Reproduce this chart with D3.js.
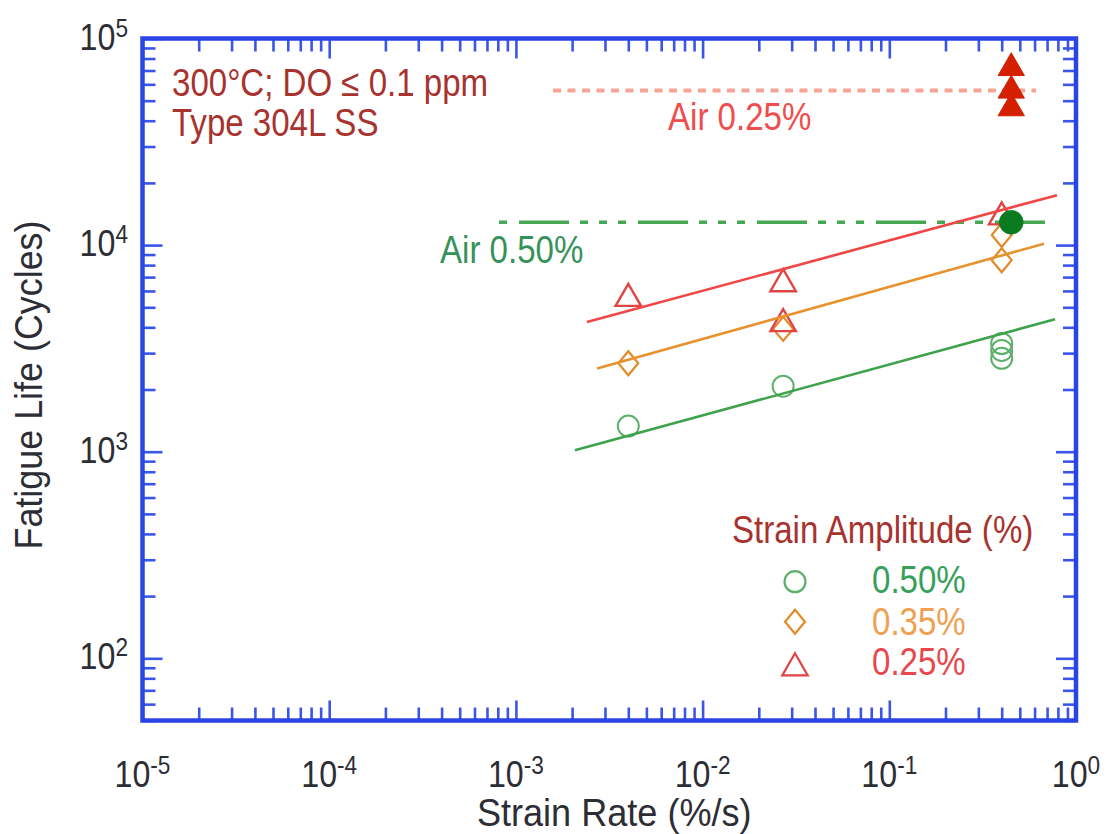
<!DOCTYPE html>
<html>
<head>
<meta charset="utf-8">
<script src="https://cdn.jsdelivr.net/npm/d3@7"></script>
<style>
  html, body { margin: 0; padding: 0; background: #fff; }
  svg { display: block; font-family: "Liberation Sans", Arial, Helvetica, sans-serif; }
</style>
</head>
<body>
<svg id="chart" width="1110" height="834"></svg>
<script>
// Fatigue life vs. strain rate, Type 304L SS in 300°C low-DO water

const xDomain = [1e-5, 1];
const yDomain = [50, 1e5];
const xTickExponents = [-5, -4, -3, -2, -1, 0];
const yTickExponents = [2, 3, 4, 5];

// 0.50 % strain amplitude
const rate050 = [0.004, 0.027, 0.4, 0.4, 0.4];
const life050 = [1330, 2075, 3340, 3090, 2830];
// 0.35 % strain amplitude
const rate035 = [0.004, 0.027, 0.4, 0.4];
const life035 = [2680, 3930, 11200, 8450];
// 0.25 % strain amplitude
const rate025 = [0.004, 0.027, 0.027, 0.4];
const life025 = [5510, 6490, 4160, 13670];

// best-fit trend lines (end points)
const fitRate050 = [0.00207, 0.772];
const fitLife050 = [1015, 4380];
const fitRate035 = [0.00272, 0.674];
const fitLife035 = [2527, 10160];
const fitRate025 = [0.00240, 0.791];
const fitLife025 = [4240, 17450];

// air reference lives
const airRate025 = [0.00158, 0.611];
const airLife025 = [56000, 56000];
const airRate050 = [0.000812, 0.682];
const airLife050 = [12900, 12900];
const airPointRate = [0.45];
const airPointLife = [12900];
const runoutRate = [0.45, 0.45, 0.45];
const runoutLife = [72000, 56000, 46000];

const legendTitle = "Strain Amplitude (%)";
const legendLabels = ["0.50%", "0.35%", "0.25%"];
const noteLines = ["300°C; DO \u2264 0.1 ppm", "Type 304L SS"];

// ---------------------------------------------------------------
const plot = { left: 142.5, right: 1076, top: 38.5, bottom: 720.5 };

const x = d3.scaleLog().domain(xDomain).range([plot.left, plot.right]);
const y = d3.scaleLog().domain(yDomain).range([plot.bottom, plot.top]);

const svg = d3.select("#chart");

const AXIS = "#2b44e6";
const TICK = "#3a55ea";
const TXT = "#2d2d35";
const SX = 0.87;   // narrow face

const C_GREEN = "#3ea24c", C_GREEN_MK = "#5cb06c", C_GREEN_DARK = "#0a7a20";
const C_ORANGE = "#e8922e", C_ORANGE_MK = "#e38a26";
const C_RED = "#f04646", C_RED_MK = "#e04444", C_RED_DARK = "#d42000";
const C_NOTE = "#a8322e";

// ---------- ticks on all four sides (inward) ----------
const majorX = xTickExponents.map(e => Math.pow(10, e));
const minorX = [];
for (let e = -5; e < 0; e++) for (let m = 2; m <= 9; m++) minorX.push(m * Math.pow(10, e));
const majorY = yTickExponents.map(e => Math.pow(10, e));
const minorY = [];
for (let e = 1; e < 5; e++) for (let m = 2; m <= 9; m++) {
  const v = m * Math.pow(10, e);
  if (v >= yDomain[0] && v < yDomain[1]) minorY.push(v);
}

function tickGroup(axis, tx, ty) {
  const g = svg.append("g").attr("transform", `translate(${tx},${ty})`).call(axis);
  g.select(".domain").remove();
  g.selectAll(".tick line").attr("stroke", TICK).attr("stroke-width", 2.6);
  g.selectAll(".tick text").remove();
  return g;
}
[[minorX, 13], [majorX, 20]].forEach(([vals, len]) => {
  tickGroup(d3.axisBottom(x).tickValues(vals).tickSize(-len).tickSizeOuter(0).tickFormat(""), 0, plot.bottom);
  tickGroup(d3.axisTop(x).tickValues(vals).tickSize(-len).tickSizeOuter(0).tickFormat(""), 0, plot.top);
});
[[minorY, 13], [majorY, 20]].forEach(([vals, len]) => {
  tickGroup(d3.axisLeft(y).tickValues(vals).tickSize(-len).tickSizeOuter(0).tickFormat(""), plot.left, 0);
  tickGroup(d3.axisRight(y).tickValues(vals).tickSize(-len).tickSizeOuter(0).tickFormat(""), plot.right, 0);
});

// frame
svg.append("rect")
  .attr("x", plot.left).attr("y", plot.top)
  .attr("width", plot.right - plot.left).attr("height", plot.bottom - plot.top)
  .attr("fill", "none").attr("stroke", AXIS).attr("stroke-width", 4.5);

// ---------- tick labels (powers of ten) ----------
function powerLabel(g, exp, anchor) {
  const t = g.append("text").attr("text-anchor", anchor).attr("fill", TXT).attr("font-size", 37);
  t.append("tspan").text("10");
  t.append("tspan").attr("dy", -13).attr("font-size", 26).text(String(exp));
}
xTickExponents.forEach(e => {
  const g = svg.append("g").attr("transform", `translate(${x(Math.pow(10, e))},787) scale(${SX},1)`);
  powerLabel(g, e, "middle");
});
yTickExponents.forEach(e => {
  const g = svg.append("g").attr("transform", `translate(128,${y(Math.pow(10, e)) + 11}) scale(${SX},1)`);
  powerLabel(g, e, "end");
});

// axis titles
svg.append("g").attr("transform", `translate(${(plot.left + plot.right) / 2 + 5},826) scale(0.95,1)`)
  .append("text").attr("text-anchor", "middle").attr("fill", TXT).attr("font-size", 38)
  .text("Strain Rate (%/s)");
svg.append("g").attr("transform", `translate(42,385) rotate(-90) scale(0.92,1)`)
  .append("text").attr("text-anchor", "middle").attr("fill", TXT).attr("font-size", 39)
  .text("Fatigue Life (Cycles)");

// ---------- air reference lines ----------
const line = d3.line().x(d => x(d[0])).y(d => y(d[1]));

svg.append("path")
  .datum(d3.zip(airRate025, airLife025))
  .attr("d", line).attr("fill", "none")
  .attr("stroke", "#f6a496").attr("stroke-width", 4)
  .attr("stroke-dasharray", "8,6.5");

svg.append("path")
  .datum(d3.zip(airRate050, airLife050))
  .attr("d", line).attr("fill", "none")
  .attr("stroke", "#47a853").attr("stroke-width", 3.4)
  .attr("stroke-dasharray", "50,11,8,11,8,11,8,12")
  .attr("stroke-dashoffset", 99);

// ---------- markers ----------
const diamondShape = {
  draw(ctx, size) {
    const k = 0.83;
    const h = Math.sqrt(size / (2 * k)), w = h * k;
    ctx.moveTo(0, -h); ctx.lineTo(w, 0); ctx.lineTo(0, h); ctx.lineTo(-w, 0); ctx.closePath();
  }
};
const circleSym = d3.symbol().type(d3.symbolCircle).size(346);
const diamondSym = d3.symbol().type(diamondShape).size(239);
const triangleSym = d3.symbol().type(d3.symbolTriangle).size(280);

function markers(rates, lives, sym, color, fill, sw) {
  svg.append("g").selectAll("path")
    .data(d3.zip(rates, lives))
    .join("path")
    .attr("transform", d => `translate(${x(d[0])},${y(d[1])})`)
    .attr("d", sym)
    .attr("fill", fill)
    .attr("stroke", color)
    .attr("stroke-width", sw);
}
markers(rate050, life050, circleSym, C_GREEN_MK, "none", 2);
markers(rate035, life035, diamondSym, C_ORANGE_MK, "none", 2.2);
markers(rate025, life025, triangleSym, C_RED_MK, "none", 2.4);

// ---------- best-fit lines ----------
[[fitRate050, fitLife050, C_GREEN],
 [fitRate035, fitLife035, C_ORANGE],
 [fitRate025, fitLife025, C_RED]].forEach(([r, l, c]) => {
  svg.append("path").datum(d3.zip(r, l)).attr("d", line)
    .attr("fill", "none").attr("stroke", c).attr("stroke-width", 2.6);
});

// runouts and air test point
markers(runoutRate, runoutLife, d3.symbol().type(d3.symbolTriangle).size(300), C_RED_DARK, C_RED_DARK, 1);
markers(airPointRate, airPointLife, d3.symbol().type(d3.symbolCircle).size(452), C_GREEN_DARK, C_GREEN_DARK, 0.5);

// ---------- annotations ----------
function label(txt, tx, ty, color, size, anchor) {
  svg.append("g").attr("transform", `translate(${tx},${ty}) scale(${SX},1)`)
    .append("text").attr("text-anchor", anchor || "start")
    .attr("fill", color).attr("font-size", size).text(txt);
}
label(noteLines[0], 172, 96, C_NOTE, 38);
label(noteLines[1], 172, 136, C_NOTE, 38);
label("Air 0.25%", 668, 130, "#f04c4c", 38);
label("Air 0.50%", 440, 263, "#35935a", 38);

// ---------- legend ----------
label(legendTitle, 732, 543, C_NOTE, 38);
const legendY = [581.7, 621.7, 668];
const legendSyms = [circleSym, diamondSym, triangleSym];
const legendStroke = [C_GREEN_MK, C_ORANGE_MK, C_RED_MK];
const legendTextColor = ["#36a05a", "#f0a050", "#e8474e"];
const legendTextY = [592.7, 635, 675];
legendLabels.forEach((t, i) => {
  svg.append("path")
    .attr("transform", `translate(795,${legendY[i]})`)
    .attr("d", legendSyms[i]).attr("fill", "none")
    .attr("stroke", legendStroke[i]).attr("stroke-width", 2.2);
  label(t, 872, legendTextY[i], legendTextColor[i], 38);
});
</script>
</body>
</html>
